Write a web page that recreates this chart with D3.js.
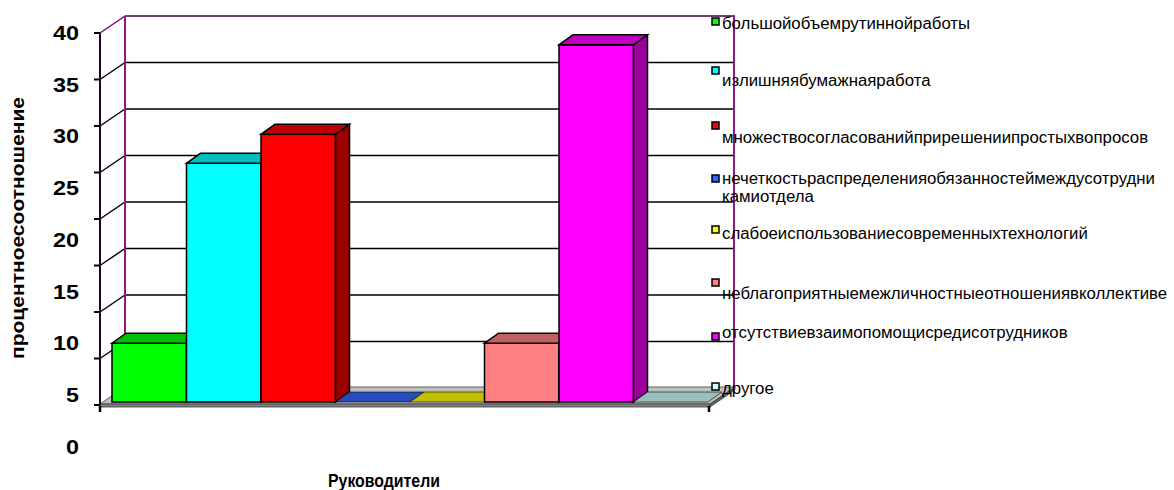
<!DOCTYPE html>
<html>
<head>
<meta charset="utf-8">
<script src="https://cdn.jsdelivr.net/npm/d3@7"></script>
<style>
  body { margin: 0; background: #fff; }
</style>
</head>
<body>
<div id="chart-area"></div>
<script>

// data
let categories = [
  "большойобъемрутиннойработы",
  "излишняябумажнаяработа",
  "множествосогласованийприрешениипростыхвопросов",
  "нечеткостьраспределенияобязанностеймеждусотрудникамиотдела",
  "слабоеиспользованиесовременныхтехнологий",
  "неблагоприятныемежличностныеотношениявколлективе",
  "отсутствиевзаимопомощисредисотрудников",
  "другое"
];
let values = [6.3, 25.6, 28.7, 0, 0, 6.3, 38.3, 0];
let colors = ["#00ff00", "#00ffff", "#ff0000", "#3366ff", "#ffff00", "#ff8080", "#ff00ff", "#ccffff"];
let legendLines = [
  ["большойобъемрутиннойработы"],
  ["излишняябумажнаяработа"],
  ["множествосогласованийприрешениипростыхвопросов"],
  ["нечеткостьраспределенияобязанностеймеждусотрудни", "камиотдела"],
  ["слабоеиспользованиесовременныхтехнологий"],
  ["неблагоприятныемежличностныеотношениявколлективе"],
  ["отсутствиевзаимопомощисредисотрудников"],
  ["другое"]
];
let yTicks = [0, 5, 10, 15, 20, 25, 30, 35, 40];
let yTitle = "процентноесоотношение";
let xTitle = "Руководители";

let width = 1174,
    height = 490;

let svg = d3.select("#chart-area").append("svg")
    .attr("width", width)
    .attr("height", height)
    .style("font-family", "'Liberation Sans', Arial, sans-serif");

// 3d box geometry
let wallDX = 25, wallDY = -17;
let barDX = 14, barDY = -10;
let leftX = 100, rightX = 710;

let yFront = d3.scaleLinear().domain([0, 40]).range([405, 33]);
let yBack = v => yFront(v) + wallDY;
let yBar = d3.scaleLinear().domain([0, 40]).range([402, 29]);
let yLabel = d3.scaleLinear().domain([0, 40]).range([447, 33]);

let x = d3.scaleBand().domain(categories).range([112, 708]).padding(0);

// back wall gridlines
svg.selectAll(".grid")
    .data(yTicks)
    .enter().append("line")
    .attr("x1", leftX + wallDX).attr("x2", rightX + wallDX)
    .attr("y1", d => yBack(d)).attr("y2", d => yBack(d))
    .style("stroke", d => d == 40 ? "#400040" : "#000")
    .style("stroke-width", 1.5);

// side wall connectors
svg.selectAll(".conn")
    .data(yTicks)
    .enter().append("line")
    .attr("x1", leftX).attr("x2", leftX + wallDX)
    .attr("y1", d => yFront(d)).attr("y2", d => yBack(d))
    .style("stroke", d => d == 40 ? "#800080" : "#000")
    .style("stroke-width", 1.5);

// wall edges
svg.append("line")
    .attr("x1", leftX + wallDX).attr("x2", leftX + wallDX)
    .attr("y1", yBack(40)).attr("y2", yBack(0))
    .style("stroke", "#8a1a8a").style("stroke-width", 2);
svg.append("line")
    .attr("x1", rightX + wallDX - 1).attr("x2", rightX + wallDX - 1)
    .attr("y1", yBack(40)).attr("y2", yBack(0))
    .style("stroke", "#8a1a8a").style("stroke-width", 2);

// floor
let f0 = yFront(0);
svg.append("polygon")
    .attr("points", [[leftX, f0 - 1], [rightX, f0 - 1], [rightX + wallDX, f0 - 1 + wallDY], [leftX + wallDX, f0 - 1 + wallDY]].join(" "))
    .style("fill", "#c0c0c0").style("stroke", "#606060").style("stroke-width", 1);
svg.append("polygon")
    .attr("points", [[leftX, f0 - 1], [rightX, f0 - 1], [rightX, f0 + 2], [leftX, f0 + 2]].join(" "))
    .style("fill", "#808080").style("stroke", "#404040").style("stroke-width", 0.8);
svg.append("polygon")
    .attr("points", [[rightX, f0 - 1], [rightX + wallDX, f0 - 1 + wallDY], [rightX + wallDX, f0 + 2 + wallDY], [rightX, f0 + 2]].join(" "))
    .style("fill", "#606060").style("stroke", "#404040").style("stroke-width", 0.8);

// bars
let bars = svg.selectAll(".bar")
    .data(categories.map((c, i) => ({ cat: c, value: values[i], color: colors[i] })))
    .enter().append("g")
    .attr("class", "bar");

bars.append("rect")
    .attr("x", d => x(d.cat))
    .attr("y", d => yBar(d.value))
    .attr("width", x.bandwidth())
    .attr("height", d => yBar(0) - yBar(d.value))
    .style("fill", d => d.color)
    .style("stroke", "#000").style("stroke-width", d => d.value > 0 ? 1.5 : 0);

bars.append("polygon")
    .attr("points", function(d) {
      let x0 = x(d.cat), w = x.bandwidth(), yt = yBar(d.value);
      return [[x0, yt], [x0 + w, yt], [x0 + w + barDX, yt + barDY], [x0 + barDX, yt + barDY]].join(" ");
    })
    .style("fill", d => d3.color(d.color).darker(0.8))
    .style("stroke", "#000").style("stroke-width", d => d.value > 0 ? 1.5 : 0.6);

bars.filter(d => d.value > 0).append("polygon")
    .attr("points", function(d) {
      let x1 = x(d.cat) + x.bandwidth(), yt = yBar(d.value), yb = yBar(0);
      return [[x1, yt], [x1 + barDX, yt + barDY], [x1 + barDX, yb + barDY], [x1, yb]].join(" ");
    })
    .style("fill", d => d3.color(d.color).darker(1.4))
    .style("stroke", "#000").style("stroke-width", 1.5);

// front value axis
svg.append("line")
    .attr("x1", leftX).attr("x2", leftX)
    .attr("y1", yFront(40)).attr("y2", yFront(0))
    .style("stroke", "#200020").style("stroke-width", 2);
svg.selectAll(".tick")
    .data(yTicks)
    .enter().append("line")
    .attr("x1", leftX - 6).attr("x2", leftX)
    .attr("y1", d => yFront(d)).attr("y2", d => yFront(d))
    .style("stroke", "#000").style("stroke-width", 2);

// category axis ticks
svg.selectAll(".xtick")
    .data([leftX, rightX - 1])
    .enter().append("line")
    .attr("x1", d => d).attr("x2", d => d)
    .attr("y1", f0 + 1).attr("y2", f0 + 7)
    .style("stroke", "#000").style("stroke-width", 2.5);

// tick labels
svg.selectAll(".ylabel")
    .data(yTicks)
    .enter().append("text")
    .attr("x", 79)
    .attr("y", d => yLabel(d))
    .attr("dy", "0.35em")
    .attr("text-anchor", "end")
    .attr("textLength", d => String(d).length * 13)
    .attr("lengthAdjust", "spacingAndGlyphs")
    .style("font-size", "19.5px").style("font-weight", "bold")
    .text(d => d);

// axis titles
svg.append("text")
    .attr("transform", "translate(24,228) rotate(-90)")
    .attr("text-anchor", "middle")
    .attr("textLength", 262)
    .attr("lengthAdjust", "spacingAndGlyphs")
    .style("font-size", "18px").style("font-weight", "bold")
    .text(yTitle);

svg.append("text")
    .attr("x", 384).attr("y", 487)
    .attr("text-anchor", "middle")
    .attr("textLength", 112)
    .attr("lengthAdjust", "spacingAndGlyphs")
    .style("font-size", "18px").style("font-weight", "bold")
    .text(xTitle);

// legend
let legendSquareY = [22, 71, 126, 179, 230, 283, 337, 387];
let legendTextY = [23, 80, 137, 178, 233, 293, 332, 388];

let legend = svg.selectAll(".legend")
    .data(legendLines)
    .enter().append("g")
    .attr("class", "legend");

legend.append("rect")
    .attr("x", 712)
    .attr("y", (d, i) => legendSquareY[i] - 4)
    .attr("width", 7).attr("height", 7)
    .style("fill", (d, i) => colors[i])
    .style("stroke", "#000").style("stroke-width", 1.5);

legend.each(function(lines, i) {
  let g = d3.select(this);
  lines.forEach(function(line, j) {
    let t = g.append("text")
        .attr("x", 722)
        .attr("y", legendTextY[i] + j * 18)
        .attr("dy", "0.35em")
        .style("font-size", "16px")
        .text(line);
    let len = t.node().getComputedTextLength();
    t.attr("textLength", len * 1.05).attr("lengthAdjust", "spacingAndGlyphs");
  });
});

</script>
</body>
</html>
